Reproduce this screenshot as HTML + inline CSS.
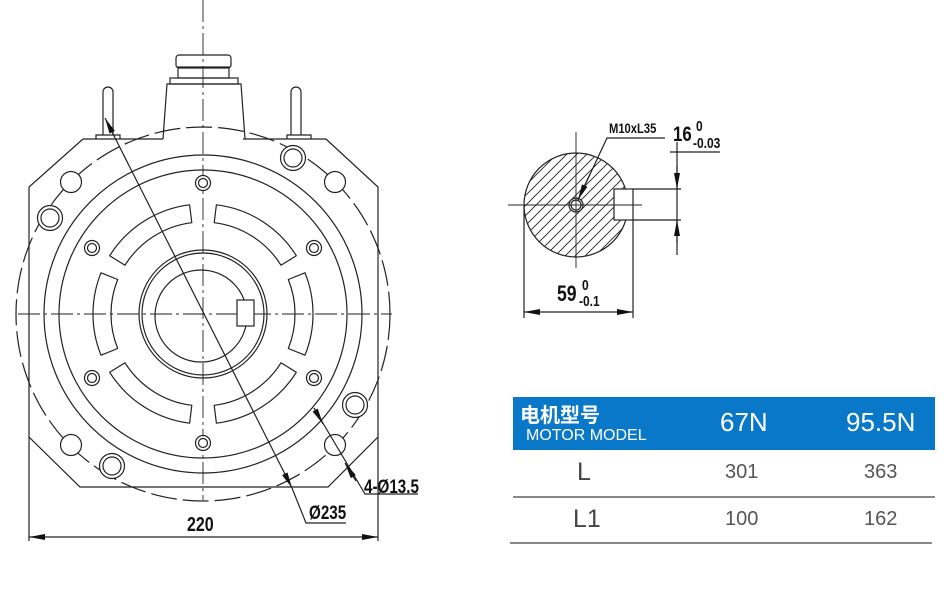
<!DOCTYPE html>
<html><head><meta charset="utf-8"><style>
html,body{margin:0;padding:0;background:#fff;}
body{width:948px;height:594px;position:relative;overflow:hidden;}
svg{position:absolute;left:0;top:0;}
.t{position:absolute;font-family:"Liberation Sans","Noto Sans CJK SC",sans-serif;white-space:nowrap;}
.d{font-weight:bold;color:#111;transform:scaleX(0.8);transform-origin:left;}
</style></head><body>
<svg id="s" width="948" height="594" viewBox="0 0 948 594" fill="none" stroke="#222" stroke-width="1.2">
<defs>
<clipPath id="cc"><circle cx="576" cy="205" r="52"/></clipPath>
<marker id="a" viewBox="0 0 16 6" refX="16" refY="3" markerWidth="16" markerHeight="6" orient="auto-start-reverse" markerUnits="userSpaceOnUse"><path d="M0,0 L16,3 L0,6 z" fill="#111" stroke="none"/></marker>
</defs>
<path d="M83,139 H163 M243,139 H326 L378,187 V437 L328,487 H80 L29,437 V187 L83,139"/>
<path d="M163,139 L167,84 H241 L245,139"/>
<rect x="170" y="78" width="68" height="6"/>
<rect x="178" y="67" width="51" height="11"/>
<rect x="176" y="55" width="55" height="13" rx="3"/>
<path d="M103,135 V92 A5,5 0 0 1 113,92 V135 M96,139 V135 H120 V139 M291,135 V92 A5,5 0 0 1 301,92 V135 M287,139 V135 H311 V139"/>
<path d="M203,0 V500 M18,314 H392" stroke-dasharray="22,4,3,4" stroke-width="0.9"/>
<circle cx="203" cy="314" r="187" stroke-dasharray="26,6"/>
<circle cx="203" cy="314" r="159"/>
<circle cx="203" cy="314" r="144"/>
<circle cx="203" cy="314" r="64"/>
<circle cx="203" cy="314" r="61"/>
<circle cx="201" cy="316" r="46"/>
<rect x="237" y="300" width="17" height="26" fill="#fff"/>
<g id="holes"></g>
<g id="slots"></g>
<path d="M105,118 L292,488" marker-start="url(#a)" marker-end="url(#a)"/>
<path d="M292,488 L306,523 H346"/>
<path d="M314,408 L365,494 H418"/>
<path d="M314,408 L323,424" marker-end="url(#a)"/>
<path d="M356,481 L345,463" marker-end="url(#a)"/>
<path d="M29,437 V541 M378,437 V541"/>
<path d="M29,537 H378" marker-start="url(#a)" marker-end="url(#a)"/>

<g clip-path="url(#cc)" id="hatch" stroke-width="0.9"></g>
<circle cx="576" cy="205" r="52"/>
<rect x="614" y="189" width="19" height="31" fill="#fff"/>
<circle cx="576" cy="205" r="7" fill="#fff"/>
<circle cx="576" cy="205" r="5"/>
<path d="M508,205 H642 M576,132 V268" stroke-width="0.9"/>
<path d="M633,189 H681 M633,220 H681 M677,142 V255 M670,152 H720"/>
<path d="M677,166 V189" marker-end="url(#a)"/>
<path d="M677,243 V220" marker-end="url(#a)"/>
<path d="M665,138 H607 L578,200"/>
<path d="M590,174 L578,200" marker-end="url(#a)"/>
<path d="M524,205 V318 M633,220 V318"/>
<path d="M524,312 H633" marker-start="url(#a)" marker-end="url(#a)"/>
</svg>
<div class="t d" style="left:309px;top:503px;font-size:19px;">Ø235</div>
<div class="t d" style="left:364px;top:477px;font-size:19px;">4-Ø13.5</div>
<div class="t d" style="left:187px;top:514px;font-size:20px;">220</div>
<div class="t d" style="left:609px;top:120px;font-size:14px;">M10xL35</div>
<div class="t d" style="left:673px;top:123px;font-size:21px;">16</div>
<div class="t d" style="left:696px;top:118px;font-size:15px;">0</div>
<div class="t d" style="left:693px;top:135px;font-size:15px;">-0.03</div>
<div class="t d" style="left:557px;top:281px;font-size:22px;">59</div>
<div class="t d" style="left:582px;top:277px;font-size:15px;">0</div>
<div class="t d" style="left:579px;top:293px;font-size:15px;">-0.1</div>

<div style="position:absolute;left:513px;top:397px;width:422px;height:53px;background:#0a78c8;"></div>
<div class="t" style="left:520px;top:399px;font-size:20px;font-weight:bold;color:#fff;">电机型号</div>
<div class="t" style="left:526px;top:427px;font-size:16px;color:#fff;">MOTOR MODEL</div>
<div class="t" style="left:720px;top:407px;font-size:26px;color:#fff;">67N</div>
<div class="t" style="left:846px;top:407px;font-size:26px;color:#fff;">95.5N</div>
<div class="t" style="left:577px;top:458px;font-size:25px;color:#444;">L</div>
<div class="t" style="left:725px;top:461px;font-size:20px;color:#555;">301</div>
<div class="t" style="left:864px;top:461px;font-size:20px;color:#555;">363</div>
<div style="position:absolute;left:513px;top:496px;width:422px;height:2px;background:#888;"></div>
<div class="t" style="left:573px;top:505px;font-size:25px;color:#444;">L1</div>
<div class="t" style="left:725px;top:508px;font-size:20px;color:#555;">100</div>
<div class="t" style="left:864px;top:508px;font-size:20px;color:#555;">162</div>
<div style="position:absolute;left:510px;top:542px;width:422px;height:2px;background:#888;"></div>
<script>
var NS="http://www.w3.org/2000/svg";
function el(p,t,a){var e=document.createElementNS(NS,t);for(var k in a)e.setAttribute(k,a[k]);p.appendChild(e);return e;}
var h=document.getElementById("holes");
[[203,183],[203,443],[92,248],[314,248],[92,378],[314,378]].forEach(function(p){el(h,"circle",{cx:p[0],cy:p[1],r:7.5,fill:"#fff"});el(h,"circle",{cx:p[0],cy:p[1],r:4.5});});
[[50,218],[293,158],[112,466],[355,405]].forEach(function(p){el(h,"circle",{cx:p[0],cy:p[1],r:12.5,fill:"#fff"});el(h,"circle",{cx:p[0],cy:p[1],r:9});});
[[71,182],[335,182],[71,445],[335,445]].forEach(function(p){el(h,"circle",{cx:p[0],cy:p[1],r:10.5,fill:"#fff"});});
var s=document.getElementById("slots"),cx=203,cy=314,R=110,r=92;
function pt(rad,deg){var a=deg*Math.PI/180;return (cx+rad*Math.cos(a)).toFixed(1)+","+(cy+rad*Math.sin(a)).toFixed(1);}
[[-148,-97],[-83,-32],[158,202],[-22,22],[97,148],[32,83]].forEach(function(g){
var a1=g[0],a2=g[1];
var d="M"+pt(R,a1)+" A"+R+","+R+" 0 0 1 "+pt(R,a2)+" L"+pt(r,a2)+" A"+r+","+r+" 0 0 0 "+pt(r,a1)+" Z";
el(s,"path",{d:d,"stroke-linejoin":"round"});});
var hc=document.getElementById("hatch");
for(var k=-120;k<=120;k+=10){el(hc,"line",{x1:576+k-80,y1:205+80,x2:576+k+80,y2:205-80});}
</script>
</body></html>
